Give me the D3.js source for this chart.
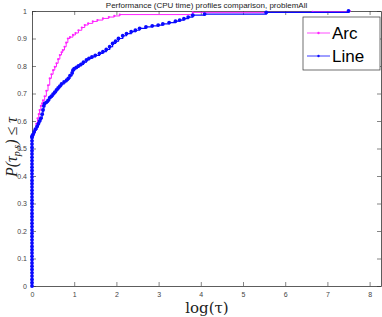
<!DOCTYPE html>
<html>
<head>
<meta charset="utf-8">
<script src="https://cdn.jsdelivr.net/npm/d3@7"></script>
<style>
  body { margin: 0; background: #fff; }
  svg { display: block; }
</style>
</head>
<body>
<svg id="chart"></svg>
<script>
// performance profile data (tau, rho)
const arcTau = [0, 0, 0, 0, 0, 0, 0, 0, 0, 0, 0.03, 0.06, 0.1, 0.13, 0.16, 0.18, 0.21, 0.24, 0.26, 0.3, 0.34, 0.38, 0.42, 0.46, 0.5, 0.54, 0.58, 0.62, 0.66, 0.7, 0.73, 0.77, 0.81, 0.85, 0.9, 0.97, 1.03, 1.1, 1.18, 1.25, 1.33, 1.44, 1.55, 1.68, 1.82, 1.95, 2.08, 3.81, 6.65, 7.53];
const arcRho = [0, 0.06, 0.12, 0.18, 0.24, 0.3, 0.36, 0.42, 0.48, 0.545, 0.55, 0.565, 0.59, 0.61, 0.625, 0.64, 0.655, 0.664, 0.675, 0.69, 0.71, 0.73, 0.755, 0.77, 0.785, 0.797, 0.81, 0.825, 0.84, 0.85, 0.858, 0.87, 0.885, 0.9, 0.905, 0.913, 0.92, 0.93, 0.94, 0.949, 0.955, 0.962, 0.967, 0.973, 0.978, 0.982, 0.987, 0.995, 0.997, 1.0];

// the Line solver reaches 0.545 at tau = 0 (many ties, drawn as a dense stack of markers)
const lineRamp = [0, 0.012, 0.024, 0.036, 0.048, 0.06, 0.072, 0.084, 0.096, 0.108, 0.12, 0.132, 0.144, 0.156, 0.168, 0.18, 0.192, 0.204, 0.216, 0.228, 0.24, 0.252, 0.264, 0.276, 0.288, 0.3, 0.312, 0.324, 0.336, 0.348, 0.36, 0.372, 0.384, 0.396, 0.408, 0.42, 0.432, 0.444, 0.456, 0.468, 0.48, 0.492, 0.504, 0.516, 0.528, 0.54, 0.545];
const lineTau = [0.02, 0.05, 0.08, 0.12, 0.15, 0.18, 0.21, 0.24, 0.26, 0.28, 0.3, 0.34, 0.38, 0.42, 0.46, 0.5, 0.54, 0.58, 0.62, 0.66, 0.7, 0.76, 0.82, 0.86, 0.9, 0.95, 0.97, 1.0, 1.05, 1.1, 1.16, 1.22, 1.29, 1.35, 1.42, 1.5, 1.6, 1.68, 1.76, 1.84, 1.91, 1.98, 2.05, 2.15, 2.24, 2.35, 2.45, 2.55, 2.7, 2.85, 2.99, 3.1, 3.25, 3.4, 3.5, 3.6, 3.7, 3.81, 4.09, 5.55, 7.5];
const lineRho = [0.55, 0.56, 0.57, 0.58, 0.59, 0.6, 0.61, 0.625, 0.64, 0.655, 0.664, 0.668, 0.675, 0.685, 0.69, 0.698, 0.705, 0.713, 0.72, 0.727, 0.735, 0.742, 0.749, 0.755, 0.765, 0.775, 0.785, 0.79, 0.795, 0.8, 0.806, 0.814, 0.822, 0.828, 0.833, 0.839, 0.846, 0.852, 0.86, 0.87, 0.882, 0.89, 0.9, 0.91, 0.918, 0.925, 0.93, 0.937, 0.942, 0.946, 0.949, 0.953, 0.958, 0.963, 0.967, 0.972, 0.978, 0.985, 0.989, 0.995, 1.0];

const xTicks = [0, 1, 2, 3, 4, 5, 6, 7, 8];
const yTicks = [0, 0.1, 0.2, 0.3, 0.4, 0.5, 0.6, 0.7, 0.8, 0.9, 1];
const seriesNames = ["Arc", "Line"];
const seriesColors = ["#ff22ff", "#0a0aff"];

const W = 382, H = 317;
const margin = { top: 11, right: 1, bottom: 31, left: 32 };
const iw = W - margin.left - margin.right;
const ih = H - margin.top - margin.bottom;

const svg = d3.select("#chart").attr("width", W).attr("height", H);
const g = svg.append("g").attr("transform", `translate(${margin.left},${margin.top})`);

const x = d3.scaleLinear().domain([0, 8.27]).range([0, iw]);
const y = d3.scaleLinear().domain([0, 1]).range([ih, 0]);

const axisColor = "#333";
const tickFont = "7px 'Liberation Sans', Arial, sans-serif";

// axes with inward ticks, box on
function styleAxis(sel) {
    sel.select(".domain").attr("stroke", axisColor).attr("stroke-width", 0.8);
    sel.selectAll(".tick line").attr("stroke", axisColor).attr("stroke-width", 0.6);
    sel.selectAll(".tick text").style("font", tickFont).attr("fill", "#444");
}

g.append("g")
    .attr("transform", `translate(0,${ih})`)
    .call(d3.axisBottom(x).tickValues(xTicks).tickSize(-4).tickPadding(6).tickSizeOuter(0))
    .call(styleAxis);
g.append("g")
    .call(d3.axisTop(x).tickValues(xTicks).tickSize(-4).tickFormat("").tickSizeOuter(0))
    .call(styleAxis);
g.append("g")
    .call(d3.axisLeft(y).tickValues(yTicks).tickSize(-4).tickPadding(5).tickFormat(d3.format("~g")).tickSizeOuter(0))
    .call(styleAxis);
g.append("g")
    .attr("transform", `translate(${iw},0)`)
    .call(d3.axisRight(y).tickValues(yTicks).tickSize(-4).tickFormat("").tickSizeOuter(0))
    .call(styleAxis);

// series
const series = [
    arcTau.map((t, i) => ({ t: t, r: arcRho[i] })),
    lineRamp.map(r => ({ t: 0, r: r })).concat(lineTau.map((t, i) => ({ t: t, r: lineRho[i] })))
];

const stepLine = d3.line()
    .x(d => x(d.t))
    .y(d => y(d.r))
    .curve(d3.curveStepAfter);

series.forEach((pts, k) => {
    g.append("path")
        .datum(pts)
        .attr("fill", "none")
        .attr("stroke", seriesColors[k])
        .attr("stroke-width", k === 0 ? 1 : 1.2)
        .attr("d", stepLine);
    g.selectAll(".m" + k)
        .data(pts)
        .join("circle")
        .attr("class", "m" + k)
        .attr("cx", d => x(d.t))
        .attr("cy", d => y(d.r))
        .attr("r", k === 0 ? 1.1 : 1.9)
        .attr("fill", seriesColors[k]);
});

// title
svg.append("text")
    .attr("x", margin.left + iw / 2)
    .attr("y", 8)
    .attr("text-anchor", "middle")
    .style("font", "8px 'Liberation Sans', Arial, sans-serif")
    .attr("fill", "#222")
    .text("Performance (CPU time) profiles comparison, problemAll");

// axis labels
svg.append("text")
    .attr("x", 207)
    .attr("y", 313)
    .attr("text-anchor", "middle")
    .style("font", "15px 'DejaVu Serif', 'Liberation Serif', serif")
    .attr("fill", "#222")
    .text("log(τ)");

const yl = svg.append("text")
    .attr("transform", "translate(17,147) rotate(-90)")
    .attr("text-anchor", "middle")
    .style("font", "italic 16px 'Liberation Serif', serif")
    .attr("fill", "#222");
yl.append("tspan").text("P(τ");
yl.append("tspan").attr("dy", 3).style("font-size", "10px").text("p,s");
yl.append("tspan").attr("dy", -3).text(") ≤ τ");

// legend
const lg = svg.append("g").attr("transform", "translate(303,17)");
lg.append("rect")
    .attr("width", 77).attr("height", 53)
    .attr("fill", "#fff").attr("stroke", axisColor).attr("stroke-width", 0.7);
seriesNames.forEach((name, k) => {
    const yy = 16 + k * 23;
    lg.append("line")
        .attr("x1", 4).attr("x2", 27).attr("y1", yy).attr("y2", yy)
        .attr("stroke", seriesColors[k]).attr("stroke-width", 0.8);
    lg.append("circle").attr("cx", 15.5).attr("cy", yy).attr("r", 1.2).attr("fill", seriesColors[k]);
    lg.append("text")
        .attr("x", 29).attr("y", yy + 6)
        .style("font", "17px 'Liberation Sans', Arial, sans-serif")
        .attr("fill", "#000")
        .text(name);
});
</script>
</body>
</html>
